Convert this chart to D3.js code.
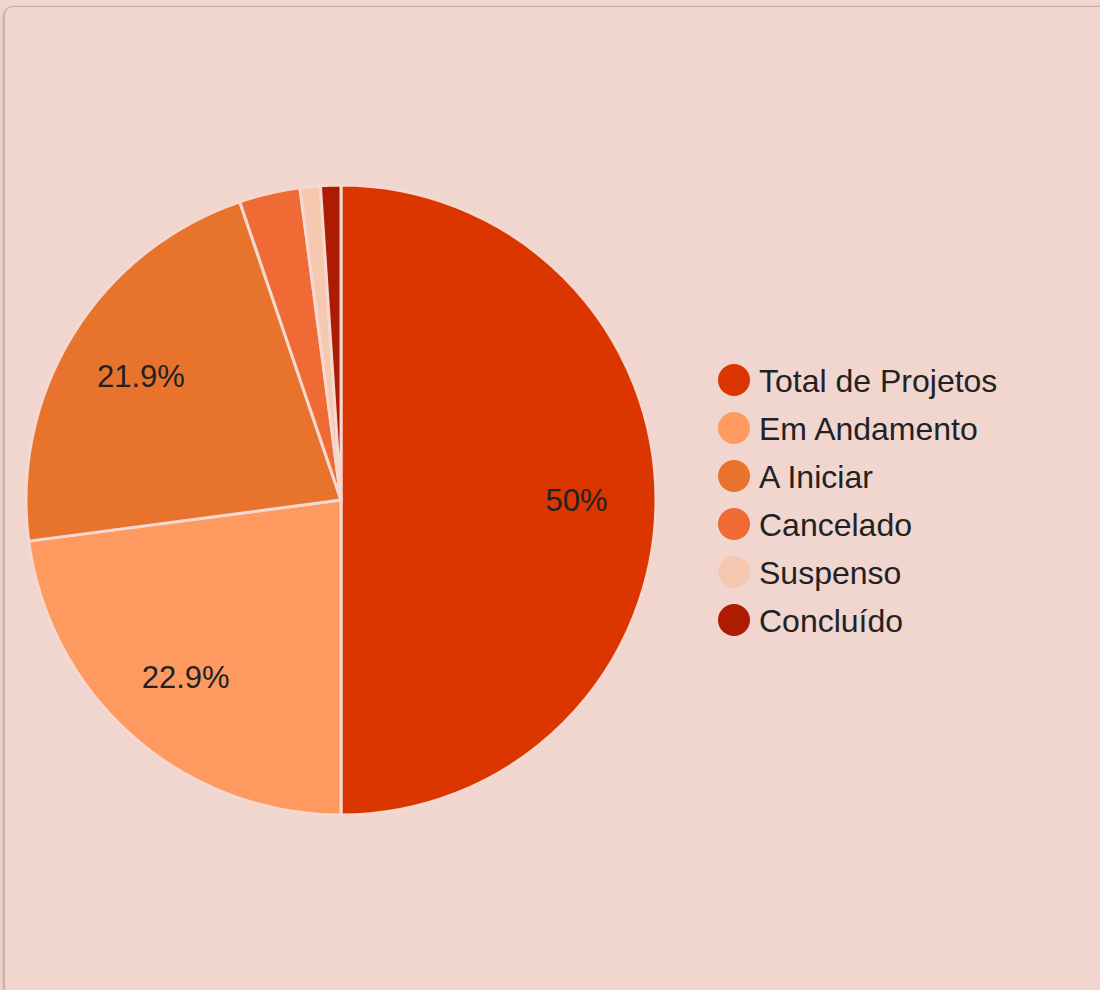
<!DOCTYPE html>
<html>
<head>
<meta charset="utf-8">
<script src="https://cdn.jsdelivr.net/npm/d3@7"></script>
<style>
  html, body { margin: 0; padding: 0; background: #f1d6d0; overflow: hidden; }
  #panel {
    position: absolute; left: 4px; top: 6px; width: 1120px; height: 1010px;
    background: #f1d6d0; border: 1px solid #c8aca6; border-radius: 9px;
    box-shadow: -1px 1px 3px rgba(120, 80, 70, 0.35);
  }
  svg { position: absolute; left: 0; top: 0; }
</style>
</head>
<body>
<div id="panel"></div>
<svg id="chart"></svg>
<script>
const categories = ["Total de Projetos", "Em Andamento", "A Iniciar", "Cancelado", "Suspenso", "Concluído"];
const values = [48, 22, 21, 3, 1, 1];
const colors = ["#db3500", "#fe9a60", "#e7732c", "#f06a35", "#f7c8b0", "#ad1b03"];

const width = 1100, height = 990;
const cx = 341, cy = 500, radius = 315;

const svg = d3.select("#chart").attr("width", width).attr("height", height);

const data = categories.map((name, i) => ({name, value: values[i], color: colors[i]}));
const total = d3.sum(values);

const pie = d3.pie().value(d => d.value).sort(null);
const arc = d3.arc().innerRadius(0).outerRadius(radius);
const labelArc = d3.arc().innerRadius(radius * 0.748).outerRadius(radius * 0.748);

const g = svg.append("g").attr("transform", `translate(${cx},${cy})`);
const arcs = pie(data);

g.selectAll("path").data(arcs).enter().append("path")
    .attr("d", arc)
    .attr("fill", d => d.data.color)
    .attr("stroke", "#f5d8cf")
    .attr("stroke-width", 3)
    .attr("stroke-linejoin", "round");

const fmt = v => {
    const p = Math.round(v / total * 1000) / 10;
    return (p % 1 === 0 ? p.toFixed(0) : p.toFixed(1)) + "%";
};

g.selectAll("text.pct").data(arcs.filter(d => d.data.value / total > 0.05)).enter().append("text")
    .attr("class", "pct")
    .attr("transform", d => `translate(${labelArc.centroid(d)})`)
    .attr("text-anchor", "middle")
    .attr("dy", "0.36em")
    .attr("font-family", "'Liberation Sans', Arial, sans-serif")
    .attr("font-size", 31)
    .attr("fill", "#222")
    .text(d => fmt(d.data.value));

// Legend
const legendY = d3.scalePoint().domain(categories).range([380, 620]);
const legend = svg.append("g");
const item = legend.selectAll("g").data(data).enter().append("g")
    .attr("transform", d => `translate(734,${legendY(d.name)})`);
item.append("circle").attr("r", 16).attr("fill", d => d.color);
item.append("text")
    .attr("x", 25)
    .attr("dy", "0.36em")
    .attr("font-family", "'Liberation Sans', Arial, sans-serif")
    .attr("font-size", 32)
    .attr("fill", "#222")
    .text(d => d.name);
</script>
</body>
</html>
